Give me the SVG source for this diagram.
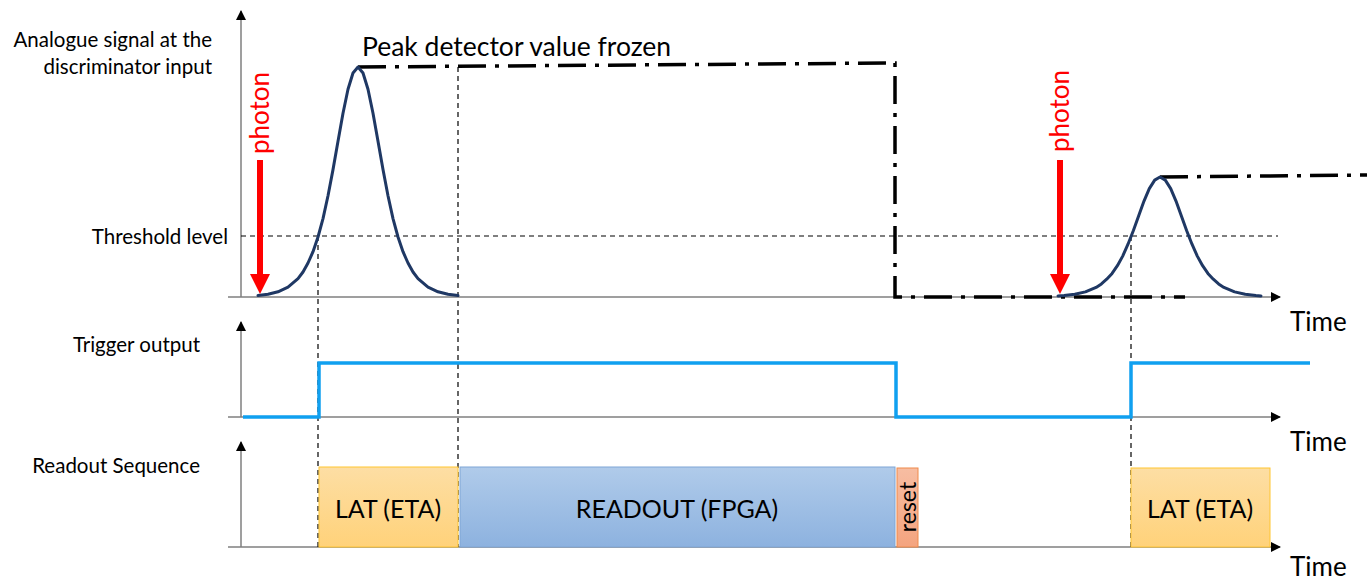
<svg xmlns="http://www.w3.org/2000/svg" width="1367" height="582" viewBox="0 0 1367 582">
<style>
text{font-family:Lato,"Open Sans","Liberation Sans",sans-serif;fill:#000}
.lbl{font-size:20.5px;text-anchor:end}
.time{font-size:26px}
.box{font-size:25px;text-anchor:middle}
.axis{stroke:#7f7f7f;stroke-width:1.5;fill:none}
.dash{stroke:#000;stroke-width:1.2;stroke-dasharray:5 4;fill:none}
.dd{stroke:#000;stroke-width:3.5;stroke-dasharray:28 9 4 9;fill:none}
.pulse{stroke:#1f3864;stroke-width:3;fill:none;stroke-linejoin:round;stroke-linecap:round}
.trig{stroke:#10a0f0;stroke-width:3.5;fill:none}
.photon{fill:#ff0000;font-size:26px;text-anchor:middle}
</style>
<defs>
<marker id="ah" markerWidth="10" markerHeight="10" refX="9" refY="5" orient="auto" markerUnits="userSpaceOnUse"><path d="M0,0 L10,5 L0,10 z" fill="#000"/></marker>
<marker id="red" markerWidth="20" markerHeight="20" refX="2" refY="10" orient="auto" markerUnits="userSpaceOnUse"><path d="M0,0 L20,10 L0,20 z" fill="#ff0000"/></marker>
<linearGradient id="gLat" x1="0" y1="0" x2="0" y2="1"><stop offset="0" stop-color="#fddea4"/><stop offset="1" stop-color="#ffd27a"/></linearGradient>
<linearGradient id="gRo" x1="0" y1="0" x2="0" y2="1"><stop offset="0" stop-color="#b0cbea"/><stop offset="1" stop-color="#8db2df"/></linearGradient>
<linearGradient id="gRs" x1="0" y1="0" x2="0" y2="1"><stop offset="0" stop-color="#f7bda2"/><stop offset="1" stop-color="#f4a47f"/></linearGradient>
</defs>

<g id="labels">
<text class="lbl" x="212" y="47">Analogue signal at the</text>
<text class="lbl" x="212" y="74">discriminator input</text>
<text class="lbl" x="228" y="244">Threshold level</text>
<text class="lbl" x="200" y="352">Trigger output</text>
<text class="lbl" x="200" y="473">Readout Sequence</text>
<text style="font-size:26.5px" x="362" y="56">Peak detector value frozen</text>
<text class="time" x="1290" y="331">Time</text>
<text class="time" x="1290" y="451">Time</text>
<text class="time" x="1290" y="576">Time</text>
</g>

<g id="axes">
<line class="axis" x1="241" y1="297" x2="241" y2="11" marker-end="url(#ah)"/>
<line class="axis" x1="228" y1="297" x2="1280" y2="297" marker-end="url(#ah)"/>
<line class="axis" x1="241" y1="417" x2="241" y2="322" marker-end="url(#ah)"/>
<line class="axis" x1="228" y1="417" x2="1280" y2="417" marker-end="url(#ah)"/>
<line class="axis" x1="241" y1="547" x2="241" y2="442" marker-end="url(#ah)"/>
<line class="axis" x1="228" y1="547" x2="1280" y2="547" marker-end="url(#ah)"/>
</g>

<g id="guides">
<line class="dash" x1="241" y1="236" x2="1278" y2="236"/>
<line class="dash" x1="318" y1="236" x2="318" y2="547"/>
<line class="dash" x1="458" y1="67" x2="458" y2="547"/>
<line class="dash" x1="1131" y1="236" x2="1131" y2="547"/>
</g>

<g id="readout">
<g id="lat1"><rect x="319" y="467" width="139" height="80" fill="url(#gLat)" stroke="#ffc530" stroke-width="1"/><text class="box" x="388" y="518">LAT (ETA)</text></g>
<g id="fpga"><rect x="460" y="467" width="435" height="80" fill="url(#gRo)" stroke="#7ea6d6" stroke-width="1"/><text class="box" x="677" y="518">READOUT (FPGA)</text></g>
<g id="reset"><rect x="897" y="468" width="21" height="79" fill="url(#gRs)" stroke="#f08a4b" stroke-width="1"/><text class="box" style="font-size:23px" transform="translate(916,507) rotate(-90)">reset</text></g>
<g id="lat2"><rect x="1131" y="468" width="139" height="79" fill="url(#gLat)" stroke="#ffc530" stroke-width="1"/><text class="box" x="1200" y="518">LAT (ETA)</text></g>
</g>

<g id="trigger">
<polyline class="trig" points="243,417 319,417 319,363 896,363 896,417 1131,417 1131,363 1310,363"/>
</g>

<g id="peak">
<polyline class="dd" points="358,67 893,63 895,63 895,297 1185,297"/>
<polyline class="dd" points="1160,177 1367,175"/>
</g>

<g id="pulses">
<polyline class="pulse" points="258,295.6 268,294.2 278,291.8 288,287.2 298,278.6 303,272 308,263 313,251.7 318,237 323,218.6 328,195.8 333,169.6 338,141.3 343,113.2 348,89.3 353,73 358,67 363,73 368,89.3 373,113.2 378,141.3 383,169.6 388,195.8 393,218.6 398,237 403,251.7 408,263 413,272 418,278.6 428,287.2 438,291.8 448,294.2 458,295.6"/>
<polyline class="pulse" points="1058,296 1064.1,295.6 1074.8,294.3 1085.4,291.9 1096.1,287.4 1101.4,283.9 1106.7,279.2 1112.1,273.4 1117.4,265.7 1122.7,256.1 1128,244.2 1133.4,230.5 1138.7,215.8 1144,201.1 1149.3,188.6 1154.7,180.1 1160,177 1165.3,180.1 1170.7,188.6 1176,201.1 1181.3,215.8 1186.6,230.5 1192,244.2 1197.3,256.1 1202.6,265.7 1207.9,273.4 1213.3,279.2 1218.6,283.9 1223.9,287.4 1234.6,291.9 1245.2,294.3 1255.9,295.6 1261,296"/>
</g>

<g id="photon1">
<line x1="260" y1="160" x2="260" y2="276" stroke="#ff0000" stroke-width="6" marker-end="url(#red)"/>
<text class="photon" transform="translate(269,113) rotate(-90)">photon</text>
</g>
<g id="photon2">
<line x1="1060" y1="160" x2="1060" y2="276" stroke="#ff0000" stroke-width="6" marker-end="url(#red)"/>
<text class="photon" transform="translate(1069,111) rotate(-90)">photon</text>
</g>
</svg>
